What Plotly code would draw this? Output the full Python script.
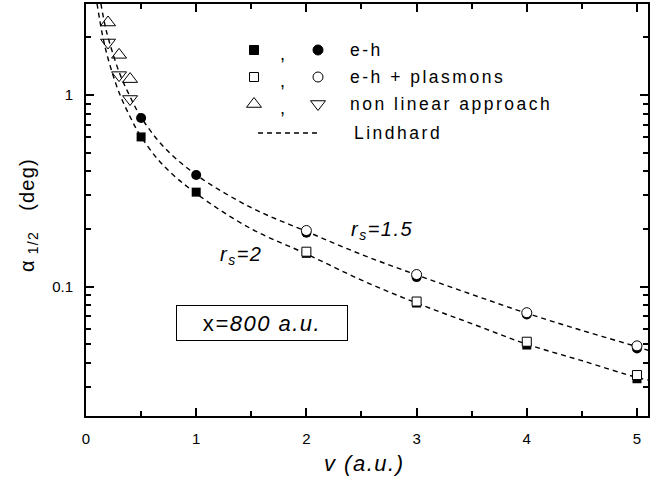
import plotly.graph_objects as go

# ---- data ----
v_pts = [0.5, 1, 2, 3, 4, 5]
eh_rs2 = [0.604, 0.311, 0.149, 0.082, 0.0495, 0.0330]        # filled squares
eh_rs15 = [0.758, 0.382, 0.191, 0.112, 0.0715, 0.0475]       # filled circles
v_pl = [2, 3, 4, 5]
pl_rs2 = [0.152, 0.0835, 0.0515, 0.0345]                     # open squares
pl_rs15 = [0.196, 0.1155, 0.0730, 0.0490]                    # open circles
v_nl = [0.2, 0.3, 0.4]
nl_rs2 = [2.39, 1.62, 1.21]                                  # up triangles
nl_rs15 = [1.88, 1.27, 0.953]                                # down triangles

v_lind2 = [0.10, 0.15, 0.2, 0.3, 0.4, 0.5, 0.7, 1.0, 1.5, 2.0, 2.5, 3.0, 3.5, 4.0, 4.5, 5.0, 5.1]
lind2 = [3.0, 2.05, 1.55, 1.03, 0.77, 0.605, 0.43, 0.306, 0.200, 0.148, 0.108, 0.082, 0.064, 0.050, 0.041, 0.0335, 0.0325]
v_lind15 = [0.135, 0.17, 0.2, 0.3, 0.4, 0.5, 0.7, 1.0, 1.5, 2.0, 2.5, 3.0, 3.5, 4.0, 4.5, 5.0, 5.1]
lind15 = [3.0, 2.35, 2.0, 1.32, 0.98, 0.765, 0.54, 0.383, 0.258, 0.194, 0.147, 0.115, 0.091, 0.0725, 0.059, 0.0485, 0.0465]

legend_labels = ["e-h", "e-h + plasmons", "non linear approach", "Lindhard"]
x_ticks = [0, 1, 2, 3, 4, 5]
y_ticks = [0.1, 1]
y_ticktext = ["0.1", "1"]

FONT = "Liberation Sans, Arial, Helvetica"
black = "black"
W, H = 659, 483
L, R, T, B = 86, 648, 4, 416
DASH = "5px,4px"

def sp(text, ls):
    return f'<span style="letter-spacing:{ls}px">{text}</span>'

def paper_x(xpix):
    return (xpix - L) / (R - L)

def paper_y(ypix):
    return (B - ypix) / (B - T)

fig = go.Figure()

fig.add_trace(go.Scatter(x=v_lind2, y=lind2, mode="lines", line=dict(color=black, width=1.4, dash=DASH, shape="spline"), showlegend=False))
fig.add_trace(go.Scatter(x=v_lind15, y=lind15, mode="lines", line=dict(color=black, width=1.4, dash=DASH, shape="spline"), showlegend=False))

fig.add_trace(go.Scatter(x=v_pts, y=eh_rs2, mode="markers", marker=dict(symbol="square", size=9, color=black), showlegend=False))
fig.add_trace(go.Scatter(x=v_pts, y=eh_rs15, mode="markers", marker=dict(symbol="circle", size=10, color=black), showlegend=False))
fig.add_trace(go.Scatter(x=v_pl, y=pl_rs2, mode="markers", marker=dict(symbol="square", size=9, color="white", line=dict(color=black, width=1)), showlegend=False))
fig.add_trace(go.Scatter(x=v_pl, y=pl_rs15, mode="markers", marker=dict(symbol="circle", size=10, color="white", line=dict(color=black, width=1)), showlegend=False))
fig.add_trace(go.Scatter(x=v_nl, y=nl_rs2, mode="markers", marker=dict(symbol="triangle-up", size=13, color="rgba(0,0,0,0)", line=dict(color=black, width=1)), showlegend=False))
fig.add_trace(go.Scatter(x=v_nl, y=nl_rs15, mode="markers", marker=dict(symbol="triangle-down", size=13, color="rgba(0,0,0,0)", line=dict(color=black, width=1)), showlegend=False))

# ---- custom legend drawn on an overlay axis measured in pixels ----
rows_y = [50, 77, 104, 133]
sym_a = [("square", black, 9), ("square", "white", 9), ("triangle-up", "rgba(0,0,0,0)", 13)]
sym_b = [("circle", black, 10), ("circle", "white", 10), ("triangle-down", "rgba(0,0,0,0)", 13)]
for i in range(3):
    for (s, c, sz), xx in ((sym_a[i], 254), (sym_b[i], 318)):
        fig.add_trace(go.Scatter(x=[xx], y=[H - rows_y[i]], xaxis="x2", yaxis="y2", mode="markers",
                                 marker=dict(symbol=s, size=sz, color=c, line=dict(color=black, width=1)), showlegend=False))
fig.add_trace(go.Scatter(x=[258, 318], y=[H - rows_y[3], H - rows_y[3]], xaxis="x2", yaxis="y2", mode="lines",
                         line=dict(color=black, width=1.4, dash=DASH), showlegend=False))

annotations = []
for i in range(3):
    annotations.append(dict(x=paper_x(282), y=paper_y(rows_y[i] + 4), xref="paper", yref="paper", text=",", showarrow=False,
                            xanchor="center", yanchor="middle", font=dict(size=18, color=black, family=FONT)))
for i, lab in enumerate(legend_labels):
    annotations.append(dict(x=paper_x(348 if i < 3 else 352), y=paper_y(rows_y[i]), xref="paper", yref="paper",
                            text=sp(lab, 2.5), showarrow=False, xanchor="left", yanchor="middle",
                            font=dict(size=17.5, color=black, family=FONT)))

annotations.append(dict(x=paper_x(349), y=paper_y(230), xref="paper", yref="paper", text="<i>" + sp("r<sub>s</sub>=1.5", 1.5) + "</i>",
                        showarrow=False, xanchor="left", yanchor="middle", font=dict(size=20, color=black, family=FONT)))
annotations.append(dict(x=paper_x(218), y=paper_y(256), xref="paper", yref="paper", text="<i>" + sp("r<sub>s</sub>=2", 1.5) + "</i>",
                        showarrow=False, xanchor="left", yanchor="middle", font=dict(size=20, color=black, family=FONT)))
annotations.append(dict(x=paper_x(262), y=paper_y(323), xref="paper", yref="paper", text=sp("x<i>=800 a.u.</i>", 1.5),
                        showarrow=False, xanchor="center", yanchor="middle", bordercolor=black, borderwidth=1, borderpad=4,
                        width=162, height=26, font=dict(size=22, color=black, family=FONT)))
annotations.append(dict(x=paper_x(364), y=paper_y(463), xref="paper", yref="paper", text="<i>" + sp("v (a.u.)", 1.5) + "</i>",
                        showarrow=False, xanchor="center", yanchor="middle", font=dict(size=22, color=black, family=FONT)))
annotations.append(dict(x=paper_x(28), y=paper_y(215), xref="paper", yref="paper", text=sp("α<sub> 1/2</sub>   (deg)", 1.2),
                        showarrow=False, textangle=-90, xanchor="center", yanchor="middle", font=dict(size=20, color=black, family=FONT)))

fig.update_layout(
    width=W, height=H,
    margin=dict(l=L, r=W - R, t=T, b=H - B, autoexpand=False),
    paper_bgcolor="white", plot_bgcolor="white",
    showlegend=False,
    annotations=annotations,
    xaxis=dict(range=[0, 5.1], tickmode="array", tickvals=x_ticks, ticks="inside", ticklen=8, tickwidth=1.5,
               minor=dict(tickvals=[0.5, 1.5, 2.5, 3.5, 4.5], ticks="inside", ticklen=5, tickwidth=1.5, tickcolor=black),
               showline=True, linecolor=black, linewidth=2, mirror="ticks", showgrid=False, zeroline=False,
               automargin=False, ticklabelstandoff=8,
               tickfont=dict(size=15, color=black, family=FONT), tickcolor=black),
    yaxis=dict(type="log", range=[-1.676, 0.475], tickmode="array", tickvals=y_ticks, ticktext=y_ticktext,
               ticks="inside", ticklen=8, tickwidth=1.5, tickcolor=black,
               minor=dict(tickvals=[0.03, 0.04, 0.05, 0.06, 0.07, 0.08, 0.09, 0.2, 0.3, 0.4, 0.5, 0.6, 0.7, 0.8, 0.9, 2, 3],
                          ticks="inside", ticklen=5, tickwidth=1.5, tickcolor=black),
               showline=True, linecolor=black, linewidth=2, mirror="ticks", showgrid=False, zeroline=False,
               automargin=False, ticklabelstandoff=8,
               tickfont=dict(size=15, color=black, family=FONT)),
    xaxis2=dict(domain=[0, 1], range=[L, R], overlaying="x", visible=False, fixedrange=True, automargin=False),
    yaxis2=dict(domain=[0, 1], range=[H - B, H - T], overlaying="y", visible=False, fixedrange=True, automargin=False),
)

fig.write_html("out.html", config={"displayModeBar": False}, post_script="document.body.style.margin='0px';")
